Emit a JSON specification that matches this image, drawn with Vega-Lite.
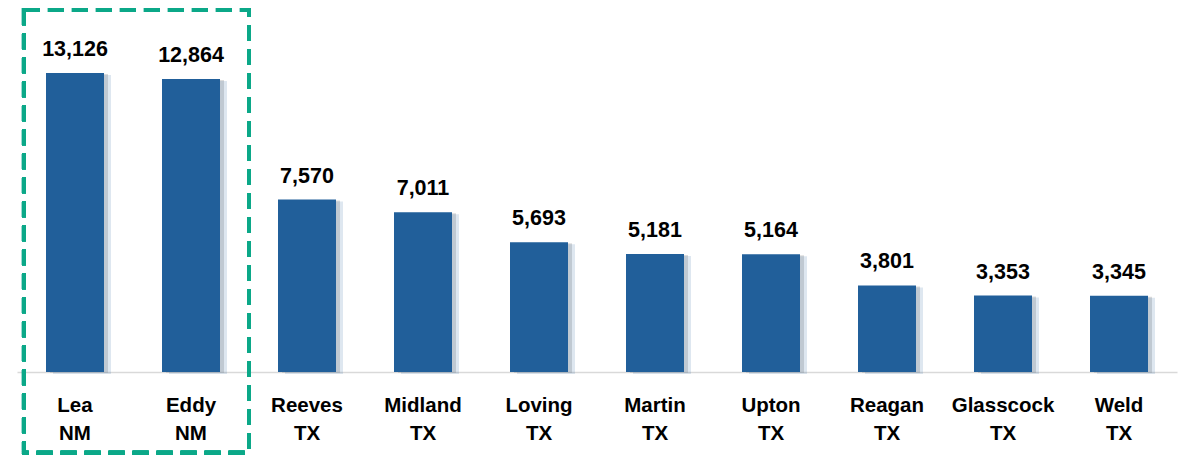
{
  "$schema": "https://vega.github.io/schema/vega-lite/v6.json",
  "width": 1160,
  "height": 372,
  "autosize": "none",
  "padding": {"left": 17, "top": 0, "right": 2, "bottom": 84},
  "background": "white",
  "config": {"view": {"stroke": null}, "font": "Liberation Sans"},
  "data": {"values": [
    {"name": "Lea NM", "wells": 13126},
    {"name": "Eddy NM", "wells": 12864},
    {"name": "Reeves TX", "wells": 7570},
    {"name": "Midland TX", "wells": 7011},
    {"name": "Loving TX", "wells": 5693},
    {"name": "Martin TX", "wells": 5181},
    {"name": "Upton TX", "wells": 5164},
    {"name": "Reagan TX", "wells": 3801},
    {"name": "Glasscock TX", "wells": 3353},
    {"name": "Weld TX", "wells": 3345}
  ]},
  "encoding": {
    "x": {"field": "name", "type": "nominal", "sort": null,
      "scale": {"paddingInner": 0.5, "paddingOuter": 0.25},
      "axis": {"title": null, "ticks": false, "labelAngle": 0, "domainColor": "#d9d9d9", "domainWidth": 1.5,
        "labelFont": "Liberation Sans", "labelFontSize": 20.5, "labelFontWeight": "bold", "labelColor": "#000000",
        "labelPadding": 23, "labelLineHeight": 28, "labelBaseline": "top",
        "labelExpr": "split(datum.value, ' ')"}},
    "y": {"field": "wells", "type": "quantitative", "scale": {"domain": [0, 16330], "nice": false, "zero": true}, "axis": null}
  },
  "layer": [
    {"mark": {"type": "bar", "color": "#9a9a9a", "opacity": 0.35, "xOffset": 4, "yOffset": 1}},
    {"mark": {"type": "bar", "color": "#215F9A", "opacity": 0.15, "xOffset": 7, "yOffset": 2}},
    {"mark": {"type": "bar", "color": "#215F9A"}},
    {"mark": {"type": "text", "baseline": "alphabetic", "dy": -17, "fontSize": 21.5, "fontWeight": "bold", "color": "#000000", "font": "Liberation Sans"},
      "encoding": {"text": {"field": "wells", "type": "quantitative", "format": ","}}},
    {"mark": {"type": "rect", "filled": false, "fill": null, "stroke": "#0BA888", "strokeWidth": 4, "strokeDash": [16, 8], "clip": false},
      "encoding": {
        "x": {"datum": "Lea NM", "bandPosition": -0.38},
        "x2": {"datum": "Eddy NM", "bandPosition": 1.5},
        "y": {"datum": 15888},
        "y2": {"datum": -3540}
      }}
  ]
}
